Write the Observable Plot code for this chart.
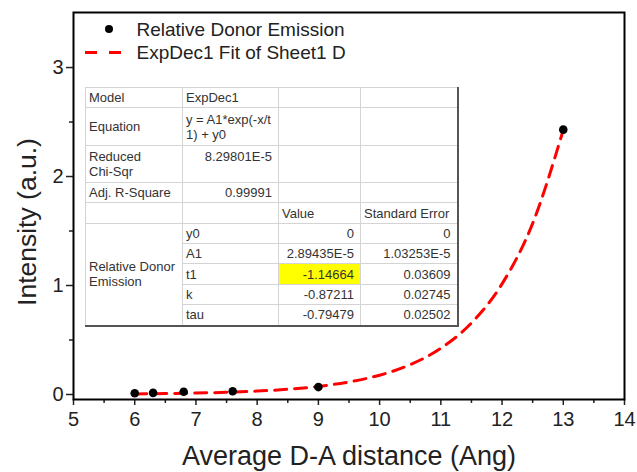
<!DOCTYPE html>
<html><head><meta charset="utf-8">
<script src="https://cdn.jsdelivr.net/npm/d3@7"></script>
<script src="https://cdn.jsdelivr.net/npm/@observablehq/plot@0.6"></script>
<style>
body{margin:0;background:#fff;}
#wrap{position:relative;width:637px;height:472px;font-family:"Liberation Sans",Arial,sans-serif;}
#tbl{position:absolute;left:85px;top:87px;border-collapse:collapse;table-layout:fixed;font-size:13px;color:#333;background:#fff;
  font-family:"Liberation Sans",Arial,sans-serif;
  border-left:1px solid #aaa;border-top:1px solid #aaa;border-right:2px solid #555;border-bottom:2px solid #555;}
#tbl td{border:1px solid #d4d4d4;padding:0 3px;overflow:hidden;white-space:nowrap;line-height:15px;vertical-align:middle;}
#tbl td.r{text-align:right;padding-right:6px;}
#tbl td.top{vertical-align:top;padding-top:3px;}
#tbl td.hl{background:#ffff00;}
</style>
</head><body>
<div id="wrap"></div>
<script>
// ---- data ----
const distance = [6, 6.3, 6.8, 7.6, 9, 13];
const emission = [0.012, 0.015, 0.025, 0.03, 0.068, 2.43];
const fitX = [6, 6.5, 7, 7.5, 8, 8.5, 9, 9.5, 10, 10.5, 11, 11.5, 12, 12.5, 13];
const fitY = [0.005, 0.008, 0.013, 0.020, 0.031, 0.048, 0.074, 0.115, 0.177, 0.274, 0.424, 0.656, 1.015, 1.570, 2.428];
const xTicks = [5, 6, 7, 8, 9, 10, 11, 12, 13, 14];
const xMinor = [5.5, 6.5, 7.5, 8.5, 9.5, 10.5, 11.5, 12.5, 13.5];
const yTicks = [0, 1, 2, 3];
const yMinor = [0.5, 1.5, 2.5];
const legendLabels = ["Relative Donor Emission", "ExpDec1 Fit of Sheet1 D"];
const xLabel = "Average D-A distance (Ang)";
const yLabel = "Intensity (a.u.)";
// fit table
const modelRow = ["Model", "ExpDec1"];
const equationRow = ["Equation", "y = A1*exp(-x/t", "1) + y0"];
const chiRow = ["Reduced", "Chi-Sqr", "8.29801E-5"];
const r2Row = ["Adj. R-Square", "0.99991"];
const headerRow = ["Value", "Standard Error"];
const groupLabel = ["Relative Donor", "Emission"];
const paramNames = ["y0", "A1", "t1", "k", "tau"];
const paramValues = ["0", "2.89435E-5", "-1.14664", "-0.87211", "-0.79479"];
const paramErrors = ["0", "1.03253E-5", "0.03609", "0.02745", "0.02502"];

const pts = distance.map((d, i) => ({x: d, y: emission[i]}));
const fit = fitX.map((d, i) => ({x: d, y: fitY[i]}));

const svg = Plot.plot({
  width: 637, height: 472,
  marginLeft: 73, marginRight: 13, marginTop: 12, marginBottom: 73,
  style: {fontFamily: '"Liberation Sans", Arial, sans-serif', color: "#222", background: "#fff"},
  x: {domain: [5, 14]},
  y: {domain: [-0.046, 3.505]},
  marks: [
    Plot.axisX(xMinor, {tickSize: 4, tickFormat: () => "", strokeWidth: 1.5, label: null}),
    Plot.axisX(xTicks, {tickSize: 6, tickPadding: 6, fontSize: 20, strokeWidth: 1.5, label: null, tickFormat: d => String(d)}),
    Plot.axisY(yMinor, {tickSize: 4, tickFormat: () => "", strokeWidth: 1.5, label: null}),
    Plot.axisY(yTicks, {tickSize: 7, tickPadding: 3, fontSize: 20, strokeWidth: 1.5, label: null, tickFormat: d => String(d)}),
    Plot.line(fit, {x: "x", y: "y", stroke: "#ff0000", strokeWidth: 3, strokeDasharray: "12,8", curve: "monotone-x"}),
    Plot.dot(pts, {x: "x", y: "y", r: 4.3, fill: "#000", stroke: "none"}),
    Plot.frame({stroke: "#000", strokeWidth: 2}),
    Plot.text([xLabel], {frameAnchor: "bottom", dy: 57, lineAnchor: "middle", textAnchor: "middle", fontSize: 27, fill: "#222"}),
    Plot.text([yLabel], {frameAnchor: "left", dx: -46, dy: 16, rotate: -90, lineAnchor: "middle", textAnchor: "middle", fontSize: 26.5, fill: "#222"}),
    Plot.text([legendLabels[0]], {frameAnchor: "top-left", dx: 63, dy: 17.5, lineAnchor: "middle", fontSize: 19, textAnchor: "start", fill: "#222"}),
    Plot.text([legendLabels[1]], {frameAnchor: "top-left", dx: 63, dy: 40.5, lineAnchor: "middle", fontSize: 19, textAnchor: "start", fill: "#222"})
  ]
});

// legend symbols
const g = d3.select(svg).append("g");
g.append("circle").attr("cx", 109).attr("cy", 29).attr("r", 4).attr("fill", "#000");
g.append("line").attr("x1", 85).attr("x2", 122).attr("y1", 52.5).attr("y2", 52.5)
  .attr("stroke", "#ff0000").attr("stroke-width", 3).attr("stroke-dasharray", "12,12");

const wrap = document.getElementById("wrap");
wrap.appendChild(svg);

// fit table
const colW = [97, 96, 82, 97];
const rowH = [20, 38, 37, 20, 21, 20, 20, 21, 20, 21];
let html = '<table id="tbl"><colgroup>' + colW.map(w => `<col style="width:${w}px">`).join("") + '</colgroup>';
html += `<tr style="height:${rowH[0]}px"><td>${modelRow[0]}</td><td>${modelRow[1]}</td><td></td><td></td></tr>`;
html += `<tr style="height:${rowH[1]}px"><td>${equationRow[0]}</td><td>${equationRow[1]}<br>${equationRow[2]}</td><td></td><td></td></tr>`;
html += `<tr style="height:${rowH[2]}px"><td class="top">${chiRow[0]}<br>${chiRow[1]}</td><td class="r top">${chiRow[2]}</td><td></td><td></td></tr>`;
html += `<tr style="height:${rowH[3]}px"><td>${r2Row[0]}</td><td class="r">${r2Row[1]}</td><td></td><td></td></tr>`;
html += `<tr style="height:${rowH[4]}px"><td></td><td></td><td>${headerRow[0]}</td><td>${headerRow[1]}</td></tr>`;
paramNames.forEach((p, i) => {
  html += `<tr style="height:${rowH[5 + i]}px">`;
  if (i === 0) html += `<td rowspan="5">${groupLabel[0]}<br>${groupLabel[1]}</td>`;
  html += `<td>${p}</td><td class="r${p === "t1" ? " hl" : ""}">${paramValues[i]}</td><td class="r">${paramErrors[i]}</td></tr>`;
});
html += '</table>';
wrap.insertAdjacentHTML("beforeend", html);
</script>
</body></html>
